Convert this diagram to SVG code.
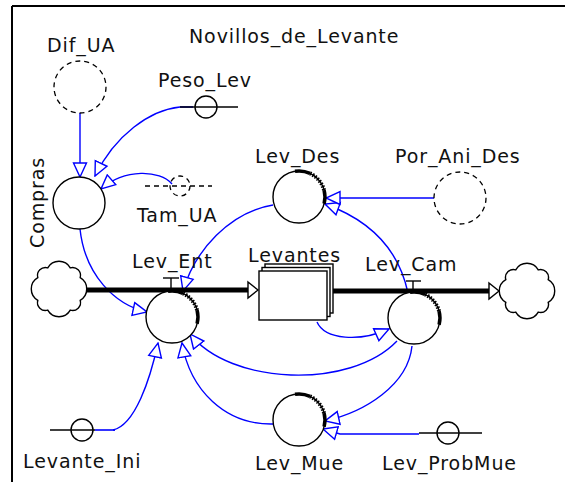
<svg xmlns="http://www.w3.org/2000/svg" xmlns:xlink="http://www.w3.org/1999/xlink" width="565" height="482" viewBox="0 0 565 482">
<style>
text{font-family:"DejaVu Sans",Verdana,sans-serif;font-size:19px;letter-spacing:0.9px;fill:#111}
.c{fill:#fff;stroke:#000;stroke-width:1.4}
.d{fill:none;stroke:#000;stroke-width:1.3;stroke-dasharray:5,4}
.ln{fill:none;stroke:#000;stroke-width:1.4}
.lk{fill:none;stroke:#0000ff;stroke-width:1.4;marker-end:url(#ah)}
.pipe{fill:none;stroke:#000;stroke-width:5}
</style>
<defs>
<marker id="ah" markerUnits="userSpaceOnUse" markerWidth="16" markerHeight="16" refX="14" refY="6.5" orient="auto" viewBox="-1 -1 16 15">
<path d="M0,0 L14,6.5 L0,13 z" fill="#fff" stroke="#0000ff" stroke-width="1.4"/>
</marker>
<g id="flow">
<circle r="26" class="c"/>
<path d="M-4,-25.7 A26,26 0 0 1 11,-23.6" fill="none" stroke="#000" stroke-width="3.5"/>
<path d="M11,-23.6 A26,26 0 0 1 25.1,-6.7" fill="none" stroke="#000" stroke-width="4" stroke-dasharray="1.5,1.5"/>
<path d="M25.1,-6.7 A26,26 0 0 1 25.1,6.7" fill="none" stroke="#000" stroke-width="3.5"/>
</g>
<path id="cloud" d="M21.19,-11.27 A13,13 0 0 1 21.19,11.27 A8,8 0 0 1 11.27,21.19 A13,13 0 0 1 -11.27,21.19 A8,8 0 0 1 -21.19,11.27 A13,13 0 0 1 -21.19,-11.27 A8,8 0 0 1 -11.27,-21.19 A13,13 0 0 1 11.27,-21.19 A8,8 0 0 1 21.19,-11.27 z" fill="#fff" stroke="#000" stroke-width="1.4"/>
</defs>
<rect width="565" height="482" fill="#fff"/>
<g id="frame">
<line x1="12" y1="6" x2="565" y2="6" stroke="#000" stroke-width="2"/>
<line x1="12" y1="6" x2="12" y2="482" stroke="#000" stroke-width="2"/>
</g>
<text id="title" x="189" y="43">Novillos_de_Levante</text>

<g id="connectors">
<path class="lk" d="M80,113 L80,177"/>
<path class="lk" d="M193,107 L180,107 C150,110 115,135 95,176"/>
<path class="lk" d="M172,184 C160,170 125,168 101,189"/>
<path class="lk" d="M80,229 C85,275 115,305 147,312"/>
<path class="lk" d="M273,205 C230,212 195,250 183,291"/>
<path class="lk" d="M317,322 C325,340 360,342 389,329"/>
<path class="lk" d="M397,341 C350,390 230,385 190,334"/>
<path class="lk" d="M408,293 C400,255 375,222 325,204"/>
<path class="lk" d="M434,198 L326,198"/>
<path class="lk" d="M412,346 C408,385 365,412 325,421"/>
<path class="lk" d="M419,434 L340,434 L323,429"/>
<path class="lk" d="M273,424 C225,425 190,390 182,343"/>
<path class="lk" d="M115,430 L113,430 C135,425 150,380 158,343"/>
</g>

<g id="flows">
<line class="pipe" x1="87" y1="290" x2="249" y2="290"/>
<path d="M248,282 L258,290 L248,298 z" fill="#fff" stroke="#000" stroke-width="1.4"/>
<line class="pipe" x1="333" y1="291" x2="490" y2="291"/>
<path d="M489,283 L499,291 L489,299 z" fill="#fff" stroke="#000" stroke-width="1.4"/>
</g>

<g id="Dif_UA">
<circle cx="80" cy="87" r="26" class="d"/>
<text x="47" y="52">Dif_UA</text>
</g>
<g id="Peso_Lev">
<line class="ln" x1="180" y1="107" x2="238" y2="107"/>
<circle cx="206" cy="107" r="11" fill="none" stroke="#000" stroke-width="1.4"/>
<text x="158" y="87">Peso_Lev</text>
</g>
<g id="Compras">
<circle cx="79" cy="203" r="26" class="c"/>
<text transform="translate(44,248) rotate(-90)">Compras</text>
</g>
<g id="Tam_UA">
<line class="d" x1="145" y1="186" x2="212" y2="186"/>
<circle cx="180" cy="186" r="10" class="d" stroke-dasharray="4,3"/>
<text x="137" y="222">Tam_UA</text>
</g>
<g id="Lev_Des">
<use xlink:href="#flow" href="#flow" x="299" y="197"/>
<text x="255" y="163">Lev_Des</text>
</g>
<g id="Por_Ani_Des">
<circle cx="460" cy="198" r="26" class="d"/>
<text x="395" y="163">Por_Ani_Des</text>
</g>
<g id="cloud_left">
<use xlink:href="#cloud" href="#cloud" x="59" y="289"/>
</g>
<g id="cloud_right">
<use xlink:href="#cloud" href="#cloud" x="527" y="291"/>
</g>
<g id="Lev_Ent">
<line class="ln" x1="163" y1="278" x2="179" y2="278"/>
<line class="ln" x1="171" y1="278" x2="171" y2="289"/>
<use xlink:href="#flow" href="#flow" x="172" y="317"/>
<text x="132" y="268">Lev_Ent</text>
</g>
<g id="Levantes">
<rect x="265" y="264" width="68" height="49" class="c"/>
<rect x="262" y="267.5" width="68" height="49" class="c"/>
<rect x="259" y="271" width="68" height="49" class="c"/>
<text x="248" y="262">Levantes</text>
</g>
<g id="Lev_Cam">
<line class="ln" x1="406" y1="281" x2="421" y2="281"/>
<line class="ln" x1="413" y1="281" x2="413" y2="291"/>
<use xlink:href="#flow" href="#flow" x="414" y="318"/>
<text x="365" y="271">Lev_Cam</text>
</g>
<g id="Lev_Mue">
<use xlink:href="#flow" href="#flow" x="299" y="420"/>
<text x="255" y="470">Lev_Mue</text>
</g>
<g id="Lev_ProbMue">
<line class="ln" x1="419" y1="433" x2="482" y2="433"/>
<circle cx="448" cy="433" r="11" fill="none" stroke="#000" stroke-width="1.4"/>
<text x="382" y="470">Lev_ProbMue</text>
</g>
<g id="Levante_Ini">
<line class="ln" x1="50" y1="430" x2="95" y2="430"/>
<line x1="95" y1="430" x2="115" y2="430" stroke="#0000ff" stroke-width="1.6"/>
<circle cx="82" cy="430" r="11" fill="none" stroke="#000" stroke-width="1.4"/>
<text x="23" y="468">Levante_Ini</text>
</g>
</svg>
